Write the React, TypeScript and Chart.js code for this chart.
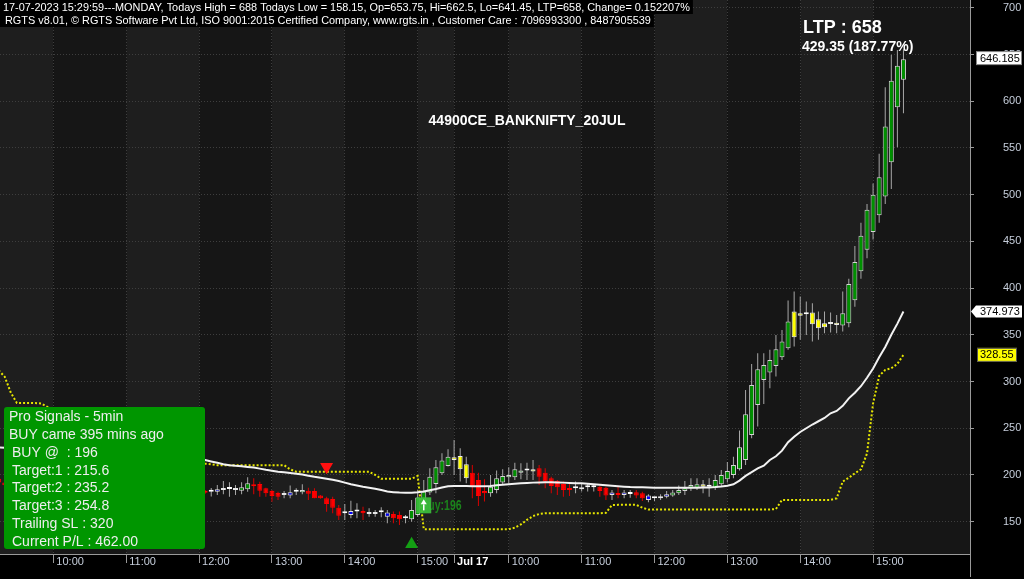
import React, { useEffect, useRef } from 'react';
import { Chart, registerables } from 'chart.js';

Chart.register(...registerables);

const FONT = '"Liberation Sans", Arial, Helvetica, sans-serif';

// ---------- DATA (5-minute candles, 14-Jul 09:15 .. 17-Jul 15:25) ----------
const openPrices = [
  196, 192, 189, 191, 188, 190, 187, 186, 188, 185, 186, 189, 188, 186, 187, 185, 186, 188, 187, 185,
  186, 184, 185, 187, 186, 184, 185, 188, 186, 185, 186, 184, 183, 184,
  183, 182, 182.1, 183.9, 185, 184, 183.2, 184.6, 189.3, 190.3, 185.7, 182.8, 180.7, 178.6, 177.9, 182.1,
  181.4, 183.2, 182.8, 177.9, 175, 174.3, 165, 159, 157.2, 160.8, 161.5, 158.3, 158.3, 160, 155.4, 158.3,
  157.2, 153.6, 152.6, 157.2, 166.1, 181.1, 190.4, 201.8, 209.7, 216.1, 220.4, 211.4, 202.5, 194.7, 182.9,
  180.4, 184, 191.8, 197.5, 197.5, 202.5, 204.7, 203.6, 207.2, 202.5, 196.4, 193.6, 190.4, 186.1, 185.7,
  184.7, 186.8, 186.8, 187.5, 186.4, 178.6, 180.4, 178.6, 179.6, 181.4, 180.4, 173.2, 175, 175, 176.8,
  177.9, 180.4, 182.9, 186.4, 186.4, 190, 187.5, 186.4, 190, 195.3, 200, 206.1, 216, 242.8, 275, 301.7,
  309.6, 316.7, 326, 335.6, 347.4, 373.1, 372, 373.8, 366.7, 362.4, 361.7, 363, 359.9, 362.4, 387, 418,
  441, 460, 478, 498, 534.8, 593.7, 623,
];
const highPrices = [
  199, 197, 194, 195, 193, 194, 191, 190, 192, 189, 191, 193, 192, 190, 191, 189, 190, 192, 191, 189,
  190, 188, 189, 191, 190, 188, 190, 192, 190, 189, 190, 188, 187, 188,
  184, 186, 189.3, 193.6, 192.1, 189.3, 192.1, 197.5, 196.4, 192.8, 186.4, 183.9, 182.1, 182.8, 188.6, 185.7,
  190, 186.4, 185.7, 178.6, 176.8, 176.8, 167.9, 169, 172.5, 169.7, 166, 164.3, 162.5, 165.4, 162.5, 160.8,
  160.8, 157.2, 173.3, 184, 194.7, 207.2, 216, 223.2, 227.5, 237.5, 228.6, 219.6, 210.7, 202.5, 195.4,
  200, 204.7, 206.1, 208.2, 213.2, 212.5, 213.2, 216.1, 210.7, 207.2, 198.2, 194.7, 192.9, 191.1, 192.9,
  191.1, 191.1, 190, 188.6, 187.5, 183.9, 187.5, 183.9, 183.9, 183.9, 182.1, 179.3, 176.8, 179.3, 182.9,
  183.9, 188.6, 193.6, 196.4, 196.4, 194.6, 196.4, 200, 205.3, 214, 219.6, 247.5, 291, 318.9, 330.3, 330.3,
  333.9, 349.9, 355.3, 386.7, 396.3, 391, 385.6, 383.8, 374.9, 374.9, 373.8, 371.3, 396.3, 410, 445, 470,
  490, 512, 543.7, 615, 649.7, 655, 655.8,
];
const lowPrices = [
  188, 186, 184, 186, 185, 186, 183, 182, 184, 181, 183, 185, 184, 182, 183, 181, 182, 184, 183, 181,
  182, 180, 181, 183, 182, 180, 181, 184, 182, 181, 182, 180, 179, 180,
  180, 177, 178.6, 179.3, 176.8, 178.6, 179.3, 182.1, 179.3, 176.8, 176.8, 171.4, 173.2, 175, 175, 178.6,
  179.3, 173.2, 175, 174.5, 160.7, 159, 151.8, 151.8, 153.6, 153.6, 151.8, 155.4, 155.4, 154.7, 148.3, 148.3,
  146.5, 148.3, 150, 155.4, 162.5, 178.6, 180.4, 200, 209, 200, 192.9, 191.1, 175, 166.8, 171.5,
  176.8, 180.4, 189.3, 191.1, 194.7, 195.4, 194.7, 194.7, 189.3, 185.7, 180.4, 178.6, 176.8, 177.5, 180.4,
  182.2, 182.2, 182.2, 176.8, 173.2, 173.2, 175, 175, 175.7, 175, 172.1, 170.7, 172.1, 173.2, 175,
  176.8, 178.6, 178.6, 182.9, 183.9, 180.4, 176.8, 183.9, 187.5, 192, 196.4, 204.7, 210.7, 239.3, 251.8, 276,
  292.8, 305.3, 323.1, 333.9, 337.4, 344.6, 349.9, 342.8, 344.6, 351.7, 352.4, 351.7, 353.5, 358, 380, 410,
  432, 452, 470, 490, 506, 550.9, 587.3,
];
const closePrices = [
  192, 189, 191, 188, 190, 187, 186, 188, 185, 186, 189, 188, 186, 187, 185, 186, 188, 187, 185, 186,
  184, 185, 187, 186, 184, 185, 188, 186, 185, 186, 184, 183, 184, 183,
  181, 182.2, 184.6, 185.7, 185, 185.7, 186.8, 191.1, 187.9, 183.2, 180.3, 177.5, 176.8, 180, 181.4, 182.1,
  183.9, 180, 175, 175, 169, 165, 156.4, 159.2, 161.5, 160.8, 159, 160, 160, 160, 159.7, 153.6,
  152.6, 153.6, 162.5, 175.8, 182.2, 198.2, 208.2, 215.4, 219.6, 218.9, 206.1, 196.4, 188.2, 177.5, 180.4,
  187.5, 196.4, 199, 200, 206.1, 204.7, 204.7, 206.1, 198.2, 192.9, 188.2, 186.8, 184, 184, 185.7,
  186.8, 186.8, 186.8, 182.9, 177.9, 181.1, 178.6, 181.1, 179.6, 177.9, 175, 177.9, 175, 177.1, 179.3,
  181.1, 183.9, 185.7, 189.3, 190, 187.5, 187.5, 194.6, 200, 204.3, 210.7, 229.6, 265, 296.4, 313.2, 317.8,
  323.1, 334.6, 342.8, 364.2, 374.9, 370.3, 372, 361.3, 357, 358.1, 363.1, 360.5, 373.1, 404.5, 428, 456,
  484, 500, 518.7, 573, 621.9, 638, 645.1,
];
// signal state of each candle: G up, R down, Y caution, B neutral, W doji
const barSignal = (
  'RRGRGRBGRBGWRBRWGBRWRBGWRBGRWBRWBR' +
  'RWBBWBGGRRRRRBBWGRRRRRRWBWRBBWBRRW' +
  'GGGGGGGYYYRRRGGGGGGWYRRRRRRWBWWRRB' +
  'RBWRRBWBB' + 'GGGGG' + 'Y' + 'W' + 'GGGGGGGGGGGGG' + 'YY' + 'W' + 'YYYYY' + 'GGGGGGGGGGG'
).split('');

// white average line
const maLine = [
  229.5, 229.1, 228.6, 228.4, 227.9, 227.5, 227.2, 226.6, 226.3, 225.8, 225.5, 225.1, 224.6, 224.3, 223.9,
  223.4, 223.1, 222.7, 222.2, 221.9, 221.5, 221.1, 220.6, 220.3, 219.8, 219.4, 219.1, 218.6, 218.3, 217.9,
  217.5, 217.1, 216.8, 216.4,
  216, 214.5, 213, 211.5, 210.5, 209.8, 209.3, 208.6, 208, 206.8, 205.5, 204.5, 203.5, 202.8, 202, 201.2,
  200.5, 199.2, 198, 197, 196, 194.8, 193.5, 191.8, 190, 188.8, 187.5, 186.4, 185.3, 183.8, 182.2, 181.6,
  181.1, 181, 181, 181.5, 182.3, 183.6, 185, 186.6, 188, 188.2, 188.2, 188.1, 188, 187.9, 187.8, 188.3,
  189, 189.5, 190, 190.5, 191, 191.4, 191.8, 192, 192.2, 192.1, 192, 191.8, 191.5, 191.2, 191, 190.5, 190,
  189.5, 189, 188.5, 188, 187.5, 187, 186.9, 186.8, 186.6, 186.4, 186.4, 186.4, 186.4, 186.4, 186.4, 186.4,
  186.4, 186.5, 186.7, 187, 187.6, 188.5, 190, 194, 199, 203, 207, 210, 216, 220, 226, 235, 241, 246, 250,
  254, 257.5, 261, 266, 268.5, 274, 282, 288, 295, 304, 314, 326, 337, 350, 362, 374.973,
];
// yellow dotted trailing stop line
const trailingStop = [
  312, 305, 288, 277, 277, 277, 277, 276.5, 273, 268,
  262, 258, 255, 250, 247, 244, 240, 236, 233, 230, 228, 226, 224, 222, 220, 219, 218, 217, 216, 215, 214,
  213.5, 213, 212.5,
  212, 211.5, 210.5, 210.5, 210.5, 210.5, 210.5, 210.5, 210.5, 210.5, 210.5, 210.5, 210.5, 210.5, 206,
  203.5, 203.5, 203.5, 203.5, 203.5, 203.5, 203.5, 203.5, 203.5, 203.5, 203.5, 203.5, 203.5, 200,
  196, 196, 196, 196, 196, 196, 199,
  142, 142, 142, 142, 142, 142, 142, 142, 142, 142, 142, 142, 142, 142, 142,
  143.5, 147, 152, 156, 158.2,
  159, 159, 159, 159, 159, 159, 159, 159, 159, 159, 159.5, 167.9, 168, 168, 168, 168, 165,
  163, 163, 163, 163, 163, 163, 163, 163, 163, 163, 163, 163, 163, 163, 163, 163, 163, 163, 163, 163, 163,
  163.5,
  173.3, 173.3, 173.3, 173.3, 173.3, 173.3, 173.3, 173.3, 173.3,
  175, 193, 197, 201.8, 206, 223, 276.7, 306, 312.4, 314.2, 318.9, 328.55,
];

const hourTickBars = [9, 21, 33, 45, 57, 69, 75, 84, 96, 108, 120, 132, 144];
const hourTickLabels = ['10:00', '11:00', '12:00', '13:00', '14:00', '15:00', 'Jul 17', '10:00', '11:00', '12:00', '13:00', '14:00', '15:00'];

const sellSignalBars = [54];
const sellSignalPrices = [208.8];
const buySignalBars = [68];
const buySignalPrices = [125.9];
const buyTagBar = 70;
const buyTagPrice = 167.5;
const buyTagText = 'Buy:196';
const upperMarkerValue = 646.185;

const headerLine1 = '17-07-2023 15:29:59---MONDAY, Todays High = 688 Todays Low = 158.15, Op=653.75, Hi=662.5, Lo=641.45, LTP=658, Change= 0.152207%';
const headerLine2 = 'RGTS v8.01, \u00A9 RGTS Software Pvt Ltd, ISO 9001:2015 Certified Company, www.rgts.in , Customer Care : 7096993300 , 8487905539';
const symbolTitle = '44900CE_BANKNIFTY_20JUL';
const ltpText = 'LTP : 658';
const changeText = '429.35 (187.77%)';
const signalPanelLines = [
  'Pro Signals - 5min',
  'BUY came 395 mins ago',
  'BUY @  : 196',
  'Target:1 : 215.6',
  'Target:2 : 235.2',
  'Target:3 : 254.8',
  'Trailing SL : 320',
  'Current P/L : 462.00',
];

const X_MIN = 0.214;
const X_MAX = 159.96;
const Y_MIN = 115.4;
const Y_MAX = 708.4;

const bodyFill: Record<string, string> = { G: '#009000', R: '#ff0000', Y: '#ffff00', B: '#0000ff', W: '#ffffff' };
const bodyStroke: Record<string, string> = { G: '#d4d4d4', R: '#ff0000', Y: '#eeeeee', B: '#e6e6e6', W: '#ffffff' };

const zeroPadding = (s: any) => {
  s.paddingTop = 0;
  s.paddingBottom = 0;
  s.paddingLeft = 0;
  s.paddingRight = 0;
};

const overlayPlugin = {
  id: 'overlay',
  beforeDraw(chart: any) {
    const { ctx, chartArea: a } = chart;
    const xs = chart.scales.x;
    ctx.save();
    ctx.fillStyle = '#000000';
    ctx.fillRect(0, 0, chart.width, chart.height);
    const edges = [xs.min, ...hourTickBars, xs.max];
    for (let k = 0; k < edges.length - 1; k++) {
      const x0 = Math.max(a.left, xs.getPixelForValue(edges[k]));
      const x1 = Math.min(a.right, xs.getPixelForValue(edges[k + 1]));
      ctx.fillStyle = k % 2 === 0 ? '#1e1e1e' : '#161616';
      ctx.fillRect(x0, a.top, x1 - x0, a.bottom - a.top);
    }
    ctx.restore();
  },
  afterDraw(chart: any) {
    const { ctx, chartArea: a } = chart;
    const xs = chart.scales.x;
    const ys = chart.scales.y;
    ctx.save();

    // right axis line continues below the plot
    ctx.strokeStyle = '#9a9a9a';
    ctx.lineWidth = 1;
    ctx.beginPath();
    ctx.moveTo(Math.round(a.right) + 0.5, 0);
    ctx.lineTo(Math.round(a.right) + 0.5, 577);
    ctx.stroke();

    // header lines
    ctx.textAlign = 'left';
    ctx.textBaseline = 'middle';
    ctx.font = `10.9px ${FONT}`;
    const w1 = ctx.measureText(headerLine1).width;
    const w2 = ctx.measureText(headerLine2).width;
    ctx.fillStyle = '#000000';
    ctx.fillRect(0, 0, w1 + 6, 14);
    ctx.fillRect(0, 14, w2 + 8, 13);
    ctx.fillStyle = '#ffffff';
    ctx.fillText(headerLine1, 3, 7.5);
    ctx.fillText(headerLine2, 5, 20.5);

    // symbol title
    ctx.font = `bold 14px ${FONT}`;
    ctx.textAlign = 'center';
    ctx.fillText(symbolTitle, 527, 121.5);

    // LTP block
    ctx.textAlign = 'left';
    ctx.font = `bold 18px ${FONT}`;
    ctx.fillText(ltpText, 803, 28.5);
    ctx.font = `bold 14px ${FONT}`;
    ctx.fillText(changeText, 802, 47.5);

    // buy tag
    const bx = xs.getPixelForValue(buyTagBar);
    const by = ys.getPixelForValue(buyTagPrice);
    ctx.save();
    ctx.translate(bx - 3, by + 1);
    ctx.scale(0.75, 1);
    ctx.font = `bold 14px ${FONT}`;
    ctx.fillStyle = '#1b821b';
    ctx.fillText(buyTagText, 0, 0);
    ctx.restore();
    ctx.fillStyle = 'rgba(60,190,60,0.92)';
    ctx.fillRect(bx - 7.5, by - 8, 15, 16);
    ctx.fillStyle = '#ffffff';
    ctx.beginPath();
    ctx.moveTo(bx - 3, by - 1);
    ctx.lineTo(bx + 3, by - 1);
    ctx.lineTo(bx, by - 6);
    ctx.closePath();
    ctx.fill();
    ctx.fillRect(bx - 0.75, by - 1, 1.5, 6);

    // Pro Signals panel
    ctx.fillStyle = '#009600';
    ctx.beginPath();
    if ((ctx as any).roundRect) (ctx as any).roundRect(4, 407, 201, 142, 3);
    else ctx.rect(4, 407, 201, 142);
    ctx.fill();
    ctx.font = `14px ${FONT}`;
    ctx.fillStyle = '#eeeeee';
    signalPanelLines.forEach((line, k) => {
      ctx.fillText(line, k < 2 ? 9 : 12, 417 + k * 17.9);
    });

    // right-side value labels
    ctx.font = `11px ${FONT}`;
    let yy = ys.getPixelForValue(upperMarkerValue);
    ctx.fillStyle = '#ffffff';
    ctx.fillRect(976, yy - 6.5, 46, 13);
    ctx.strokeStyle = '#888888';
    ctx.strokeRect(976.5, yy - 6.5, 45, 13);
    ctx.fillStyle = '#000000';
    ctx.fillText(upperMarkerValue.toFixed(3), 980, yy + 0.5);

    const maLast = maLine[maLine.length - 1];
    yy = ys.getPixelForValue(maLast);
    ctx.fillStyle = '#ffffff';
    ctx.beginPath();
    ctx.moveTo(971, yy);
    ctx.lineTo(976, yy - 6);
    ctx.lineTo(1022, yy - 6);
    ctx.lineTo(1022, yy + 6);
    ctx.lineTo(976, yy + 6);
    ctx.closePath();
    ctx.fill();
    ctx.fillStyle = '#000000';
    ctx.fillText(maLast.toFixed(3), 980, yy + 0.5);

    const tsLast = trailingStop[trailingStop.length - 1];
    yy = ys.getPixelForValue(tsLast);
    ctx.fillStyle = '#ffff00';
    ctx.fillRect(977, yy - 7, 40, 14);
    ctx.strokeStyle = '#555555';
    ctx.strokeRect(977.5, yy - 6.5, 39, 13);
    ctx.fillStyle = '#000000';
    ctx.fillText(tsLast.toFixed(2), 980, yy + 0.5);

    ctx.restore();
  },
};

export default function App() {
  const ref = useRef<HTMLCanvasElement>(null);

  useEffect(() => {
    const canvas = ref.current;
    if (!canvas) return;
    const bars = openPrices.map((_, i) => i);

    const chart = new Chart(canvas, {
      type: 'bar',
      data: {
        datasets: [
          {
            type: 'line',
            label: 'Average',
            data: bars.map((i) => ({ x: i, y: maLine[i] })),
            borderColor: '#f2f2f2',
            borderWidth: 2,
            pointRadius: 0,
            tension: 0,
            order: 1,
          } as any,
          {
            type: 'line',
            label: 'Trailing stop',
            data: bars.map((i) => ({ x: i, y: trailingStop[i] })),
            borderColor: '#e6e600',
            borderWidth: 2,
            borderDash: [2, 2],
            pointRadius: 0,
            tension: 0,
            order: 1,
          } as any,
          {
            type: 'line',
            label: 'Sell',
            data: sellSignalBars.map((b, k) => ({ x: b, y: sellSignalPrices[k] })),
            showLine: false,
            pointStyle: 'triangle',
            pointRotation: 180,
            pointRadius: 7.5,
            pointBackgroundColor: '#ff1010',
            pointBorderColor: '#ff1010',
            pointBorderWidth: 0,
            order: 0,
          } as any,
          {
            type: 'line',
            label: 'Buy',
            data: buySignalBars.map((b, k) => ({ x: b, y: buySignalPrices[k] })),
            showLine: false,
            pointStyle: 'triangle',
            pointRotation: 0,
            pointRadius: 7.5,
            pointBackgroundColor: '#14a014',
            pointBorderColor: '#14a014',
            pointBorderWidth: 0,
            order: 0,
          } as any,
          {
            type: 'bar',
            label: 'Body',
            data: bars.map((i) => ({ x: i, y: [openPrices[i], closePrices[i]] })),
            backgroundColor: bars.map((i) => bodyFill[barSignal[i]]),
            borderColor: bars.map((i) => bodyStroke[barSignal[i]]),
            borderWidth: 1,
            borderSkipped: false,
            barThickness: 5,
            minBarLength: 2,
            grouped: false,
            inflateAmount: 0,
            order: 2,
          } as any,
          {
            type: 'bar',
            label: 'Wick',
            data: bars.map((i) => ({ x: i, y: [lowPrices[i], highPrices[i]] })),
            backgroundColor: bars.map((i) => (barSignal[i] === 'R' ? '#d80000' : '#a8a8a8')),
            borderWidth: 0,
            barThickness: 1,
            grouped: false,
            inflateAmount: 0,
            order: 3,
          } as any,
        ],
      },
      options: {
        responsive: false,
        maintainAspectRatio: false,
        devicePixelRatio: 1,
        animation: false,
        events: [],
        layout: { padding: 0, autoPadding: false },
        plugins: { legend: { display: false }, tooltip: { enabled: false } },
        scales: {
          x: {
            type: 'linear',
            min: X_MIN,
            max: X_MAX,
            offset: false,
            afterBuildTicks: (s: any) => {
              s.ticks = hourTickBars.map((v) => ({ value: v }));
            },
            afterFit: (s: any) => {
              s.height = 25;
              zeroPadding(s);
            },
            grid: {
              offset: false,
              color: '#3e3e3e',
              lineWidth: 1,
              drawTicks: true,
              tickLength: 9,
              tickColor: '#9a9a9a',
              tickWidth: 1,
            },
            border: { display: true, color: '#9a9a9a', width: 1, dash: [1, 2] },
            ticks: {
              autoSkip: false,
              maxRotation: 0,
              minRotation: 0,
              align: 'start',
              labelOffset: 3,
              padding: -8,
              color: (c: any) => (hourTickLabels[c.index] === 'Jul 17' ? '#ffffff' : '#c6cedb'),
              font: (c: any) => ({
                family: FONT,
                size: 11,
                weight: hourTickLabels[c.index] === 'Jul 17' ? 'bold' : 'normal',
              }),
              callback: (_v: any, i: number) => hourTickLabels[i],
            },
          } as any,
          y: {
            type: 'linear',
            position: 'right',
            min: Y_MIN,
            max: Y_MAX,
            afterFit: (s: any) => {
              s.width = 54;
              zeroPadding(s);
            },
            grid: { offset: false, color: '#3e3e3e', lineWidth: 1, tickLength: 4, tickColor: '#9a9a9a' },
            border: { display: true, color: '#9a9a9a', width: 1, dash: [1, 2] },
            ticks: {
              stepSize: 50,
              includeBounds: false,
              color: '#c6cedb',
              font: { family: FONT, size: 11 },
              padding: 29,
            },
          } as any,
        },
      },
      plugins: [overlayPlugin],
    });

    return () => chart.destroy();
  }, []);

  return (
    <div style={{ position: 'fixed', left: 0, top: 0, width: 1024, height: 579, background: '#000', overflow: 'hidden' }}>
      <canvas ref={ref} width={1024} height={579} style={{ display: 'block', width: 1024, height: 579 }} />
    </div>
  );
}
